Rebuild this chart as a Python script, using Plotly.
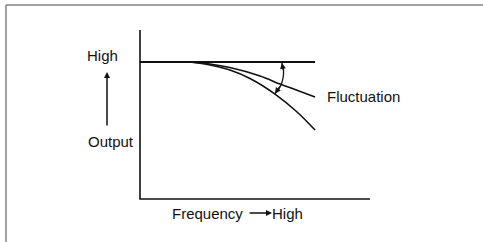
import plotly.graph_objects as go

# Conceptual data (arbitrary units: frequency 0-100, output 0-100)
axis_freq = [0, 0, 100]
axis_out = [100, 0, 0]

flat_freq = [0, 76.1]
flat_out = [81.1, 81.1]

upper_freq = [21.7, 30.4, 39.1, 52.2, 60.9, 67.4, 76.1]
upper_out = [81.1, 79.9, 77.8, 72.8, 68.0, 64.8, 60.4]

lower_freq = [21.7, 30.4, 39.1, 47.8, 58.7, 68.3, 76.1]
lower_out = [81.1, 79.3, 76.3, 71.3, 62.1, 51.5, 40.8]

arc_freq = [61.7, 62.4, 62.2, 61.3, 60.0, 58.7]
arc_out = [80.5, 76.3, 71.6, 67.5, 64.5, 62.4]

labels = {"high_y": "High", "output": "Output", "fluct": "Fluctuation",
          "freq": "Frequency", "high_x": "High"}

W, H = 483, 242
FONT = dict(family="Liberation Sans, Arial, sans-serif", size=15, color="#111")

fig = go.Figure()
line_style = dict(color="#111", width=1.6)
fig.add_trace(go.Scatter(x=axis_freq, y=axis_out, mode="lines", line=dict(color="#111", width=1.6)))
fig.add_trace(go.Scatter(x=flat_freq, y=flat_out, mode="lines", line=dict(color="#111", width=2)))
fig.add_trace(go.Scatter(x=upper_freq, y=upper_out, mode="lines", line=dict(line_style, shape="spline")))
fig.add_trace(go.Scatter(x=lower_freq, y=lower_out, mode="lines", line=dict(line_style, shape="spline")))
fig.add_trace(go.Scatter(x=arc_freq, y=arc_out, mode="lines", line=dict(color="#111", width=1.3, shape="spline")))

ann = []
ann.append(dict(x=arc_freq[0], y=arc_out[0], ax=arc_freq[1], ay=arc_out[1] - 1,
                xref="x", yref="y", axref="x", ayref="y", showarrow=True,
                arrowhead=2, arrowsize=0.9, arrowwidth=1.3, arrowcolor="#111", text=""))
ann.append(dict(x=arc_freq[-1], y=arc_out[-1], ax=arc_freq[-3], ay=arc_out[-3],
                xref="x", yref="y", axref="x", ayref="y", showarrow=True,
                arrowhead=2, arrowsize=0.9, arrowwidth=1.3, arrowcolor="#111", text=""))
ann.append(dict(x=-14.35, y=75.1, ax=-14.35, ay=42.6,
                xref="x", yref="y", axref="x", ayref="y", showarrow=True,
                arrowhead=2, arrowsize=0.8, arrowwidth=1.5, arrowcolor="#111", text=""))
ann.append(dict(x=57.4, y=-8.3, ax=47.0, ay=-8.3,
                xref="x", yref="y", axref="x", ayref="y", showarrow=True,
                arrowhead=2, arrowsize=0.8, arrowwidth=1.5, arrowcolor="#111", text=""))
ann.append(dict(x=-16.3, y=85.2, text=labels["high_y"], showarrow=False, xanchor="center", yanchor="middle", font=FONT))
ann.append(dict(x=-12.6, y=34.3, text=labels["output"], showarrow=False, xanchor="center", yanchor="middle", font=FONT))
ann.append(dict(x=80.4, y=60.9, text=labels["fluct"], showarrow=False, xanchor="left", yanchor="middle", font=FONT))
ann.append(dict(x=45.6, y=-8.3, text=labels["freq"], showarrow=False, xanchor="right", yanchor="middle", font=FONT))
ann.append(dict(x=56.6, y=-8.3, text=labels["high_x"], showarrow=False, xanchor="left", yanchor="middle", font=FONT))

fig.update_layout(
    width=W, height=H, autosize=False,
    margin=dict(l=0, r=0, t=0, b=0),
    paper_bgcolor="white", plot_bgcolor="white",
    showlegend=False,
    annotations=ann,
    shapes=[
        dict(type="line", xref="paper", yref="paper", x0=6 / W, x1=1, y0=1 - 5 / H, y1=1 - 5 / H,
             line=dict(color="#444", width=1)),
        dict(type="line", xref="paper", yref="paper", x0=6 / W, x1=6 / W, y0=1 - 5 / H, y1=0,
             line=dict(color="#444", width=1)),
    ],
    xaxis=dict(domain=[0, 1], range=[-140 / 2.3, (W - 140) / 2.3], visible=False),
    yaxis=dict(domain=[0, 1], range=[(199 - H) / 1.69, 199 / 1.69], visible=False),
)

fig.write_html("out.html", config={"displayModeBar": False},
               post_script="document.body.style.margin='0';document.body.style.overflow='hidden';")
